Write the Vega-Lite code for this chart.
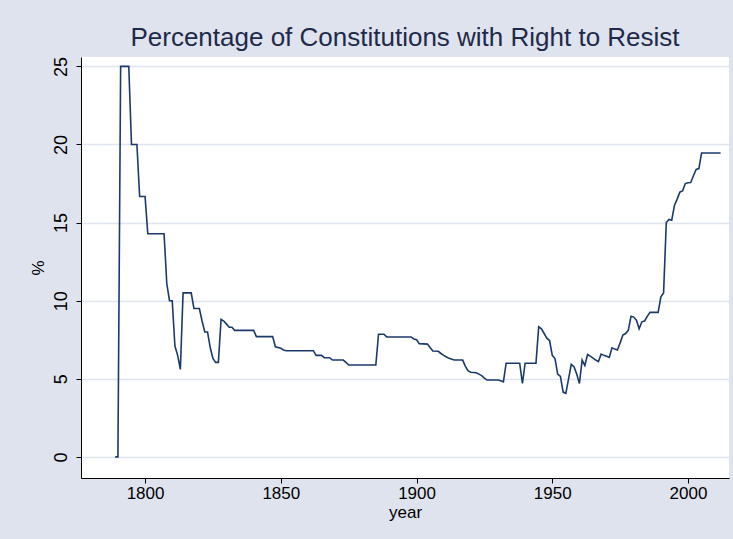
{
  "$schema": "https://vega.github.io/schema/vega-lite/v6.json",
  "width": 648,
  "height": 421,
  "autosize": {"type": "none"},
  "padding": {"left": 81, "top": 57, "right": 4, "bottom": 61},
  "background": "#dfe3ee",
  "title": {
    "text": "Percentage of Constitutions with Right to Resist",
    "font": "Liberation Sans",
    "fontSize": 26,
    "fontWeight": "normal",
    "color": "#1e2a4a",
    "anchor": "middle",
    "offset": 5
  },
  "config": {
    "view": {"fill": "white", "stroke": null},
    "font": "Liberation Sans"
  },
  "data": {
    "values": [
      {"year": 1789, "pct": 0},
      {"year": 1790, "pct": 0},
      {"year": 1791, "pct": 25},
      {"year": 1794, "pct": 25},
      {"year": 1795, "pct": 20},
      {"year": 1797, "pct": 20},
      {"year": 1798, "pct": 16.67},
      {"year": 1800, "pct": 16.67},
      {"year": 1801, "pct": 14.29},
      {"year": 1807, "pct": 14.29},
      {"year": 1808, "pct": 11.1},
      {"year": 1809, "pct": 10},
      {"year": 1810, "pct": 10},
      {"year": 1811, "pct": 7.1},
      {"year": 1812, "pct": 6.5},
      {"year": 1813, "pct": 5.6},
      {"year": 1814, "pct": 10.5},
      {"year": 1817, "pct": 10.5},
      {"year": 1818, "pct": 9.5},
      {"year": 1820, "pct": 9.5},
      {"year": 1821, "pct": 8.7},
      {"year": 1822, "pct": 8.0},
      {"year": 1823, "pct": 8.0},
      {"year": 1824, "pct": 7.0},
      {"year": 1825, "pct": 6.3},
      {"year": 1826, "pct": 6.05},
      {"year": 1827, "pct": 6.05},
      {"year": 1828, "pct": 8.8},
      {"year": 1829, "pct": 8.7},
      {"year": 1830, "pct": 8.5},
      {"year": 1831, "pct": 8.3},
      {"year": 1832, "pct": 8.3},
      {"year": 1833, "pct": 8.1},
      {"year": 1840, "pct": 8.1},
      {"year": 1841, "pct": 7.7},
      {"year": 1847, "pct": 7.7},
      {"year": 1848, "pct": 7.05},
      {"year": 1850, "pct": 6.95},
      {"year": 1851, "pct": 6.85},
      {"year": 1852, "pct": 6.8},
      {"year": 1862, "pct": 6.8},
      {"year": 1863, "pct": 6.5},
      {"year": 1865, "pct": 6.5},
      {"year": 1866, "pct": 6.35},
      {"year": 1868, "pct": 6.35},
      {"year": 1869, "pct": 6.2},
      {"year": 1873, "pct": 6.2},
      {"year": 1874, "pct": 6.05},
      {"year": 1875, "pct": 5.88},
      {"year": 1885, "pct": 5.88},
      {"year": 1886, "pct": 7.85},
      {"year": 1888, "pct": 7.85},
      {"year": 1889, "pct": 7.68},
      {"year": 1898, "pct": 7.68},
      {"year": 1899, "pct": 7.55},
      {"year": 1900, "pct": 7.5},
      {"year": 1901, "pct": 7.25},
      {"year": 1904, "pct": 7.22},
      {"year": 1905, "pct": 7.0},
      {"year": 1906, "pct": 6.78},
      {"year": 1908, "pct": 6.76},
      {"year": 1909, "pct": 6.62},
      {"year": 1910, "pct": 6.5},
      {"year": 1911, "pct": 6.4},
      {"year": 1912, "pct": 6.31},
      {"year": 1913, "pct": 6.25},
      {"year": 1914, "pct": 6.2},
      {"year": 1917, "pct": 6.2},
      {"year": 1918, "pct": 5.8},
      {"year": 1919, "pct": 5.5},
      {"year": 1920, "pct": 5.42},
      {"year": 1922, "pct": 5.39},
      {"year": 1923, "pct": 5.3},
      {"year": 1924, "pct": 5.2},
      {"year": 1925, "pct": 5.05},
      {"year": 1926, "pct": 4.92},
      {"year": 1930, "pct": 4.92},
      {"year": 1931, "pct": 4.88},
      {"year": 1932, "pct": 4.81},
      {"year": 1933, "pct": 6.0},
      {"year": 1938, "pct": 6.0},
      {"year": 1939, "pct": 4.7},
      {"year": 1940, "pct": 6.0},
      {"year": 1944, "pct": 6.0},
      {"year": 1945, "pct": 8.33},
      {"year": 1946, "pct": 8.2},
      {"year": 1947, "pct": 7.9},
      {"year": 1948, "pct": 7.6},
      {"year": 1949, "pct": 7.45},
      {"year": 1950, "pct": 6.5},
      {"year": 1951, "pct": 6.3},
      {"year": 1952, "pct": 5.3},
      {"year": 1953, "pct": 5.15},
      {"year": 1954, "pct": 4.15},
      {"year": 1955, "pct": 4.07},
      {"year": 1956, "pct": 5.0},
      {"year": 1957, "pct": 5.93},
      {"year": 1958, "pct": 5.78},
      {"year": 1959, "pct": 5.3},
      {"year": 1960, "pct": 4.7},
      {"year": 1961, "pct": 6.2},
      {"year": 1962, "pct": 5.85},
      {"year": 1963, "pct": 6.55},
      {"year": 1964, "pct": 6.45},
      {"year": 1965, "pct": 6.33},
      {"year": 1966, "pct": 6.2},
      {"year": 1967, "pct": 6.1},
      {"year": 1968, "pct": 6.58},
      {"year": 1969, "pct": 6.5},
      {"year": 1970, "pct": 6.45},
      {"year": 1971, "pct": 6.37},
      {"year": 1972, "pct": 6.98},
      {"year": 1973, "pct": 6.9},
      {"year": 1974, "pct": 6.84},
      {"year": 1975, "pct": 7.3},
      {"year": 1976, "pct": 7.8},
      {"year": 1977, "pct": 7.9},
      {"year": 1978, "pct": 8.1},
      {"year": 1979, "pct": 9.0},
      {"year": 1980, "pct": 8.95},
      {"year": 1981, "pct": 8.75},
      {"year": 1982, "pct": 8.2},
      {"year": 1983, "pct": 8.65},
      {"year": 1984, "pct": 8.7},
      {"year": 1985, "pct": 9.0},
      {"year": 1986, "pct": 9.25},
      {"year": 1989, "pct": 9.25},
      {"year": 1990, "pct": 10.25},
      {"year": 1991, "pct": 10.5},
      {"year": 1992, "pct": 15.0},
      {"year": 1993, "pct": 15.2},
      {"year": 1994, "pct": 15.15},
      {"year": 1995, "pct": 16.1},
      {"year": 1996, "pct": 16.5},
      {"year": 1997, "pct": 16.95},
      {"year": 1998, "pct": 17.03},
      {"year": 1999, "pct": 17.5},
      {"year": 2000, "pct": 17.55},
      {"year": 2001, "pct": 17.56},
      {"year": 2002, "pct": 18.0},
      {"year": 2003, "pct": 18.4},
      {"year": 2004, "pct": 18.46},
      {"year": 2005, "pct": 19.45},
      {"year": 2012, "pct": 19.45}
    ]
  },
  "mark": {"type": "line", "color": "#1a3a6c", "strokeWidth": 1.6, "interpolate": "linear"},
  "encoding": {
    "x": {
      "field": "year",
      "type": "quantitative",
      "scale": {"domain": [1776.4, 2015.1], "nice": false, "zero": false},
      "axis": {
        "title": "year",
        "values": [1800, 1850, 1900, 1950, 2000],
        "format": "d",
        "grid": false,
        "domainColor": "black",
        "domainWidth": 1,
        "tickColor": "black",
        "tickSize": 5,
        "labelFontSize": 17,
        "labelColor": "black",
        "labelPadding": 2,
        "titleFontSize": 17,
        "titleFontWeight": "normal",
        "titleColor": "black",
        "titlePadding": 3,
        "labelFont": "Liberation Sans",
        "titleFont": "Liberation Sans"
      }
    },
    "y": {
      "field": "pct",
      "type": "quantitative",
      "scale": {"domain": [-1.35, 25.6], "nice": false, "zero": false},
      "axis": {
        "title": "%",
        "values": [0, 5, 10, 15, 20, 25],
        "grid": true,
        "gridColor": "#dfe4ef",
        "gridWidth": 1.6,
        "domainColor": "black",
        "domainWidth": 1,
        "tickColor": "black",
        "tickSize": 5,
        "labelAngle": -90,
        "labelAlign": "center",
        "labelBaseline": "bottom",
        "labelFontSize": 18,
        "labelColor": "black",
        "labelPadding": 6,
        "titleFontSize": 17,
        "titleFontWeight": "normal",
        "titleColor": "black",
        "titlePadding": 5,
        "labelFont": "Liberation Sans",
        "titleFont": "Liberation Sans"
      }
    }
  }
}
